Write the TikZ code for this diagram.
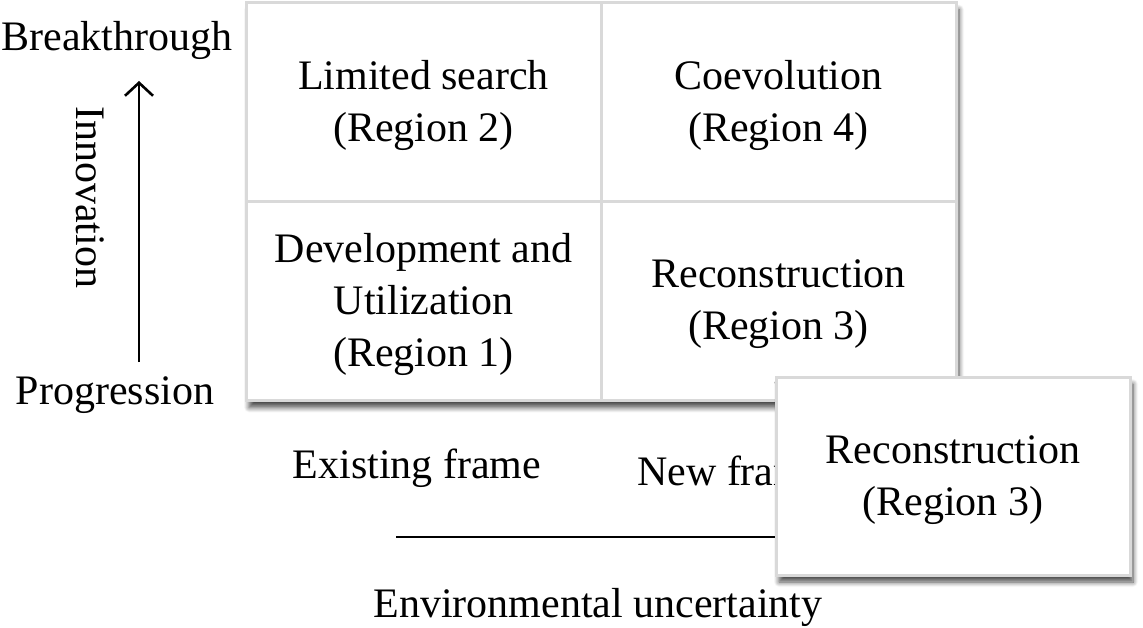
\documentclass[tikz,border=0pt]{standalone}
\usepackage{fontspec}
\setmainfont{Liberation Serif}
\usetikzlibrary{shadows.blur,arrows.meta}
\begin{document}
\begin{tikzpicture}[x=1pt,y=-1pt,
  txt/.style={font=\fontsize{42}{52}\selectfont, align=center, inner sep=0pt},
  cell/.style={draw=black!15, line width=3pt, fill=white,
    minimum width=355pt, minimum height=199pt, inner sep=0pt},
  celltext/.style={label={[txt, yshift=-3.5pt]center:#1}},
  shad/.style={blur shadow={shadow xshift=3pt, shadow yshift=-7pt,
    shadow blur radius=5pt, shadow blur steps=8, shadow opacity=70}},
  axis/.style={line width=2.6pt, black}
]
\useasboundingbox (0,0) rectangle (1143,628);
% grid background with shadow
\fill[white, shad] (246,2.5) rectangle (956,400.5);
\node[cell, celltext={Limited search\\(Region 2)}] (c2) at (423.5,102) {};
\node[cell, celltext={Coevolution\\(Region 4)}] (c4) at (778.5,102) {};
\node[cell, celltext={Development and\\Utilization\\(Region 1)}] (c1) at (423.5,301) {};
\node[cell, celltext={Reconstruction\\(Region 3)}] (c3) at (778.5,301) {};
% vertical axis
\node[txt] (bt) at (117,40) {Breakthrough};
\node[txt] (pg) at (115,395) {Progression};
\node[txt, rotate=-90] (inn) at (90,197) {Innovation};
\coordinate (a0) at (139,362);
\coordinate (a1) at (139,81);
\draw[axis, -{Straight Barb[length=13pt,width=28pt,line width=2.6pt]}] (a0) -- (a1);
% horizontal axis
\node[txt] (ef) at (417,468) {Existing frame};
\node[txt, anchor=west] (nf) at (637,471) {New frame};
\coordinate (h0) at (396,537);
\coordinate (h1) at (900,537);
\draw[axis] (h0) -- (h1);
\node[txt] (eu) at (598,607) {Environmental uncertainty};
% overlay box
\node[cell, shad, minimum width=354pt, minimum height=198pt,
  label={[txt, yshift=-4pt]center:Reconstruction\\(Region 3)}] (ov) at (953,476) {};
\end{tikzpicture}
\end{document}
